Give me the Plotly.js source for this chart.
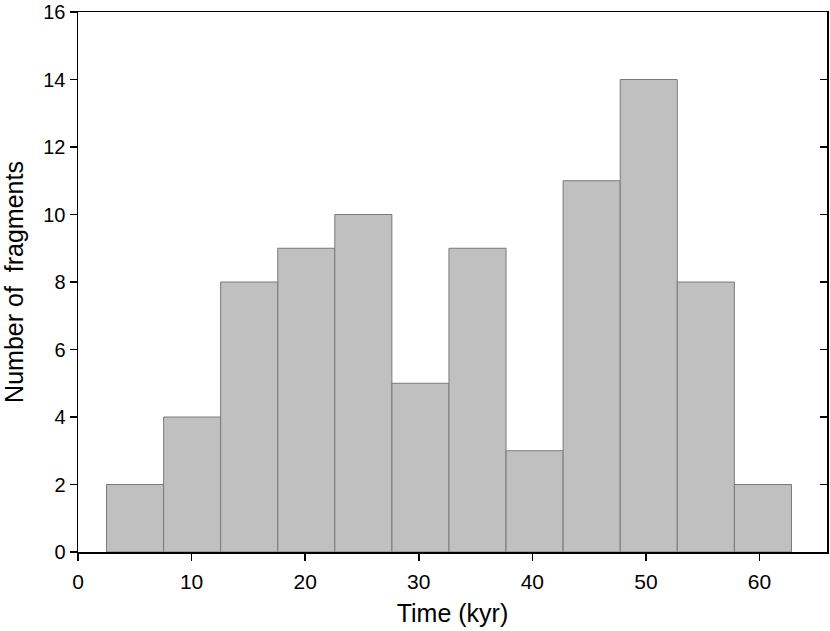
<!DOCTYPE html>
<html><head><meta charset="utf-8">
<script src="https://cdn.plot.ly/plotly-3.0.1.min.js"></script>
<style>html,body{margin:0;padding:0;background:#fff}#c{width:830px;height:631px}</style>
</head><body><div id="c"></div>
<script>
var binCenters = [5.02,10.05,15.07,20.10,25.12,30.15,35.17,40.20,45.22,50.25,55.27,60.30];
var binWidth = 5.025;
var counts = [2,4,8,9,10,5,9,3,11,14,8,2];
var xTicks = [0,10,20,30,40,50,60];
var yTicks = [0,2,4,6,8,10,12,14,16];

var font = {family:'"Liberation Sans", Arial, sans-serif', color:'#000'};
var traces = [{
  type:'bar', x:binCenters, y:counts, width:binWidth,
  marker:{color:'#c0c0c0', line:{color:'#7a7a7a', width:1}},
  hoverinfo:'x+y'
},{
  type:'scatter', x:[binCenters[0]], y:[0], yaxis:'y2', mode:'markers',
  marker:{opacity:0}, hoverinfo:'skip', showlegend:false
}];
var layout = {
  width:830, height:631, showlegend:false,
  margin:{l:78, r:3, t:12, b:79},
  paper_bgcolor:'#fff', plot_bgcolor:'#fff',
  bargap:0,
  xaxis:{range:[0,65.94], tickvals:xTicks, ticks:'outside', ticklen:7, tickwidth:1.5,
    tickcolor:'#000', showline:true, linecolor:'#000', linewidth:1.5, showgrid:false, zeroline:false,
    mirror:true, tickfont:Object.assign({size:21},font), ticklabelstandoff:3,
    title:{text:'Time (kyr)', font:Object.assign({size:25},font), standoff:13}},
  yaxis:{range:[0,16], tickvals:yTicks, ticks:'outside', ticklen:7, tickwidth:1.5,
    tickcolor:'#000', showline:true, linecolor:'#000', linewidth:1.5, showgrid:false, zeroline:false,
    mirror:true, tickfont:Object.assign({size:20},font),
    title:{text:'Number of  fragments', font:Object.assign({size:25},font), standoff:14}},
  yaxis2:{range:[0,16], tickvals:yTicks, overlaying:'y', side:'right', ticks:'inside', ticklen:7,
    tickwidth:1.5, tickcolor:'#000', showticklabels:false, showgrid:false, zeroline:false, showline:false}
};
Plotly.newPlot('c', traces, layout, {displayModeBar:false, staticPlot:true});
</script></body></html>
